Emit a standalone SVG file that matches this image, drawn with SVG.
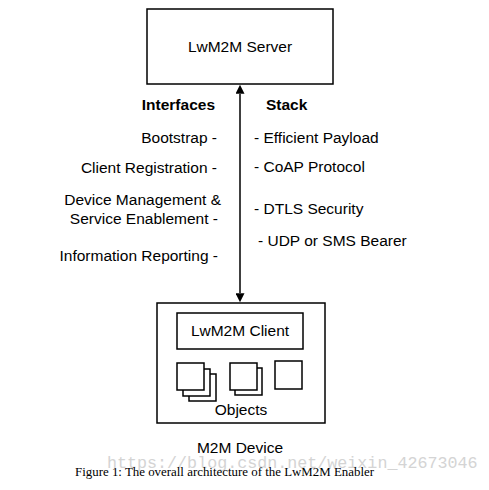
<svg xmlns="http://www.w3.org/2000/svg" width="489" height="490" viewBox="0 0 489 490">
<style>
.box{fill:#fff;stroke:#000;stroke-width:1.5}
.t{font-family:"Liberation Sans",Arial,sans-serif;font-size:15.5px;fill:#000}
.b{font-weight:bold}
.r{text-anchor:end}
.m{text-anchor:middle}
</style>
<defs>
<marker id="ah" viewBox="0 0 10 10" refX="10" refY="5" markerWidth="9" markerHeight="9" markerUnits="userSpaceOnUse" orient="auto">
<path d="M0,0 L10,5 L0,10 z" fill="#000"/>
</marker>
</defs>
<rect width="489" height="490" fill="#fff"/>
<g id="server">
<rect class="box" x="147" y="9" width="186" height="75"/>
<text class="t m" x="240" y="52">LwM2M Server</text>
</g>
<g id="connectors">
<line x1="240" y1="94" x2="240" y2="293" stroke="#000" stroke-width="1.5"/>
<line x1="240" y1="150" x2="240" y2="84.8" stroke="none" marker-end="url(#ah)"/>
<line x1="240" y1="250" x2="240" y2="302.2" stroke="none" marker-end="url(#ah)"/>
</g>
<g id="interfaces">
<text class="t b r" x="215" y="110">Interfaces</text>
<text class="t r" x="217" y="143">Bootstrap -</text>
<text class="t r" x="217" y="173">Client Registration -</text>
<text class="t r" x="221" y="205">Device Management &amp;</text>
<text class="t r" x="218" y="224">Service Enablement -</text>
<text class="t r" x="218" y="261">Information Reporting -</text>
</g>
<g id="stack">
<text class="t b" x="266" y="110">Stack</text>
<text class="t" x="254" y="143">- Efficient Payload</text>
<text class="t" x="254" y="172">- CoAP Protocol</text>
<text class="t" x="254" y="214">- DTLS Security</text>
<text class="t" x="258" y="246">- UDP or SMS Bearer</text>
</g>
<g id="device">
<rect class="box" x="157" y="303" width="168" height="120"/>
<text class="t m" x="240" y="453">M2M Device</text>
</g>
<g id="client">
<rect class="box" x="177" y="313" width="126" height="36"/>
<text class="t m" x="240" y="336">LwM2M Client</text>
</g>
<g id="objects">
<rect class="box" x="189" y="374" width="27" height="27"/>
<rect class="box" x="183" y="369" width="27" height="27"/>
<rect class="box" x="177" y="363" width="27" height="27"/>
<rect class="box" x="235" y="368" width="27" height="27"/>
<rect class="box" x="230" y="363" width="27" height="27"/>
<rect class="box" x="275" y="361" width="27" height="28"/>
<text class="t m" x="241" y="415">Objects</text>
</g>
<text x="107" y="468" font-family="'Liberation Mono','DejaVu Sans Mono',monospace" font-size="16.7" fill="#d4d4d4">https://blog.csdn.net/weixin_42673046</text>
<text x="75" y="476" font-family="'Liberation Serif','Times New Roman',serif" font-size="12.9" fill="#000">Figure 1: The overall architecture of the LwM2M Enabler</text>
</svg>
